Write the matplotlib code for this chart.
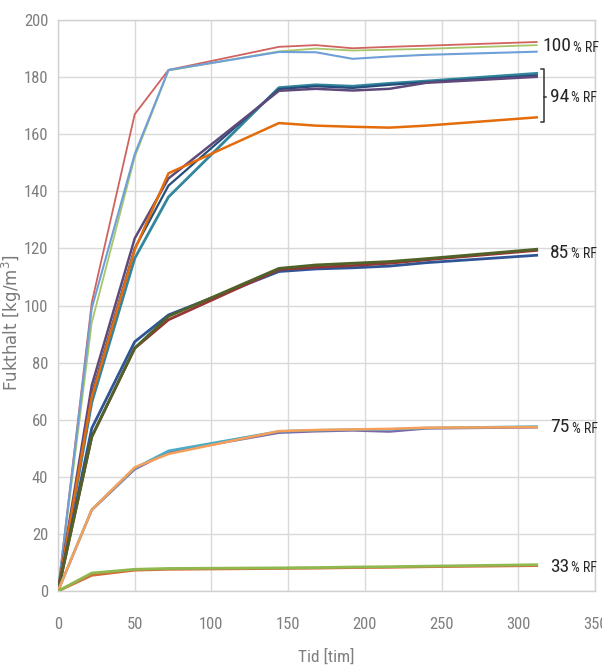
import matplotlib
matplotlib.use("Agg")
import matplotlib.pyplot as plt
from matplotlib import font_manager as fm

# ---------------- data ----------------
t = [0, 22, 50, 72, 144, 168, 192, 216, 240, 312]

# 100 % RF
rf100_red   = [0, 101, 167, 182.5, 190.6, 191.2, 190.1, 190.6, 191.0, 192.3]
rf100_green = [0, 94, 152, 182.3, 189.0, 190.0, 189.3, 189.6, 189.9, 191.2]
rf100_blue  = [0, 99, 153, 182.5, 188.8, 188.7, 186.4, 187.2, 187.8, 188.9]

# 94 % RF
rf94_teal   = [0, 66, 116.5, 138, 176.3, 177.3, 176.8, 177.8, 178.6, 181.3]
rf94_navy   = [0, 69, 120, 142, 175.8, 176.8, 176.2, 177.3, 178.2, 180.6]
rf94_purple = [0, 72, 123.5, 144.5, 175.2, 175.9, 175.3, 175.9, 178.0, 180.1]
rf94_orange = [0, 68, 119.5, 146.3, 163.9, 163.0, 162.6, 162.3, 163.0, 165.9]

# 85 % RF
rf85_blue   = [0, 57, 87.3, 96.7, 111.9, 112.8, 113.2, 113.8, 115.0, 117.6]
rf85_green  = [0, 54, 85.1, 96.2, 113.0, 114.2, 114.8, 115.4, 116.4, 119.7]
rf85_red    = [0, 54, 85.0, 95.0, 112.6, 113.4, 114.0, 114.8, 116.0, 119.3]

# 75 % RF
rf75_teal   = [0, 28.5, 43.0, 49.1, 55.9, 56.3, 56.5, 56.6, 57.1, 57.6]
rf75_purple = [0, 28.3, 42.6, 48.6, 55.4, 55.9, 56.2, 55.8, 56.9, 57.3]
rf75_orange = [0, 28.5, 43.3, 48.0, 56.0, 56.4, 56.6, 56.8, 57.2, 57.4]

# 33 % RF
rf33_red    = [0, 5.5, 7.3, 7.6, 7.9, 8.0, 8.2, 8.3, 8.5, 8.9]
rf33_green  = [0, 6.3, 7.6, 7.9, 8.1, 8.2, 8.4, 8.5, 8.7, 9.2]

group_labels = ["100", "94", "85", "75", "33"]
group_label_y = [190.8, 173, 118.5, 57.3, 8.5]

x_ticks = [0, 50, 100, 150, 200, 250, 300, 350]
y_ticks = [0, 20, 40, 60, 80, 100, 120, 140, 160, 180, 200]

# ---------------- fonts ----------------
def find_narrow():
    names = ["Liberation Sans Narrow", "Roboto Condensed", "Open Sans Condensed",
             "Noto Sans Condensed", "DejaVu Sans Condensed"]
    for f in fm.fontManager.ttflist:
        if f.name in names and f.weight in (400, "normal", "regular") and f.style == "normal":
            return fm.FontProperties(fname=f.fname)
    for f in fm.fontManager.ttflist:
        st = f.stretch
        cond = (isinstance(st, str) and "condensed" in st) or (isinstance(st, (int, float)) and st < 500)
        if cond and f.style == "normal" and f.weight in (400, "normal", "regular"):
            return fm.FontProperties(fname=f.fname)
    return None

narrow_fp = find_narrow()

def fp(size):
    if narrow_fp is not None:
        p = narrow_fp.copy()
        p.set_size(size)
        return p, True
    return fm.FontProperties(family="Liberation Sans", size=size), False

# ---------------- figure ----------------
fig = plt.figure(figsize=(6.02, 6.68), dpi=100)
ax = fig.add_axes([58/602, 1 - 591/668, (595-58)/602, (591-20)/668])

series = [
    (rf100_red,   "#D0625F", 1.3),
    (rf100_green, "#A6C66A", 1.3),
    (rf100_blue,  "#6F9FD8", 1.5),
    (rf94_teal,   "#31859C", 2.0),
    (rf94_navy,   "#254F7A", 1.6),
    (rf94_purple, "#5F497A", 1.8),
    (rf94_orange, "#E46C0A", 1.8),
    (rf85_blue,   "#2F5597", 2.0),
    (rf85_red,    "#953735", 2.0),
    (rf85_green,  "#4F6228", 2.0),
    (rf75_purple, "#7E65A8", 1.6),
    (rf75_teal,   "#4BACC6", 1.8),
    (rf75_orange, "#F5A05A", 1.8),
    (rf33_red,    "#D46A3A", 2.0),
    (rf33_green,  "#8FB84E", 2.0),
]
for y, c, lw in series:
    ax.plot(t, y, color=c, lw=lw, solid_joinstyle="round", zorder=3)

ax.set_xlim(0, 350)
ax.set_ylim(0, 200)
ax.set_xticks(x_ticks)
ax.set_yticks(y_ticks)
ax.grid(True, color="#D9D9D9", lw=1.0, zorder=0)
ax.set_axisbelow(True)
for s in ax.spines.values():
    s.set_color("#D0D0D0")
    s.set_linewidth(1.0)

tick_fp, is_narrow = fp(12)
if not is_narrow:
    tick_fp.set_size(11)
ax.tick_params(length=0, labelcolor="#7F7F7F")
ax.tick_params(axis="y", pad=7)
ax.tick_params(axis="x", pad=19)
for lab in ax.get_xticklabels() + ax.get_yticklabels():
    lab.set_fontproperties(tick_fp)

xl_fp, _ = fp(12.5 if is_narrow else 11.5)
ax.set_xlabel("Tid [tim]", fontproperties=xl_fp, color="#7F7F7F")
ax.xaxis.set_label_coords(0.5, -0.1)
ax.set_ylabel("Fukthalt [kg/m$^3$]", fontsize=12, color="#7A7A7A",
              family="DejaVu Sans", fontweight="normal")
ax.yaxis.set_label_coords(-0.063, 0.47)

# group labels
num_size = 14 if is_narrow else 12
pct_size = 10 if is_narrow else 8.5
label_x = {"100": 315.5, "94": 320.5, "85": 320.5, "75": 321, "33": 320.5}
for lab, yv in zip(group_labels, group_label_y):
    nfp, _ = fp(num_size)
    ntxt = ax.text(label_x[lab], yv, lab, fontproperties=nfp, color="#262626",
                   va="center", ha="left", clip_on=False)
    pfp, _ = fp(pct_size)
    ax.annotate("% RF", xy=(1, 0.5), xycoords=ntxt, xytext=(1.5, -1),
                textcoords="offset points", fontproperties=pfp, color="#262626",
                va="center", ha="left", annotation_clip=False)

# bracket for 94 % RF
bx = 314.5
ax.plot([bx, bx + 2.2, bx + 2.2, bx], [182.8, 182.8, 164.2, 164.2],
        color="#333333", lw=1.1, clip_on=False, zorder=4)
ax.plot([bx + 2.2, bx + 3.6], [173, 173], color="#333333", lw=1.1, clip_on=False, zorder=4)

fig.savefig("out.png", dpi=100)
